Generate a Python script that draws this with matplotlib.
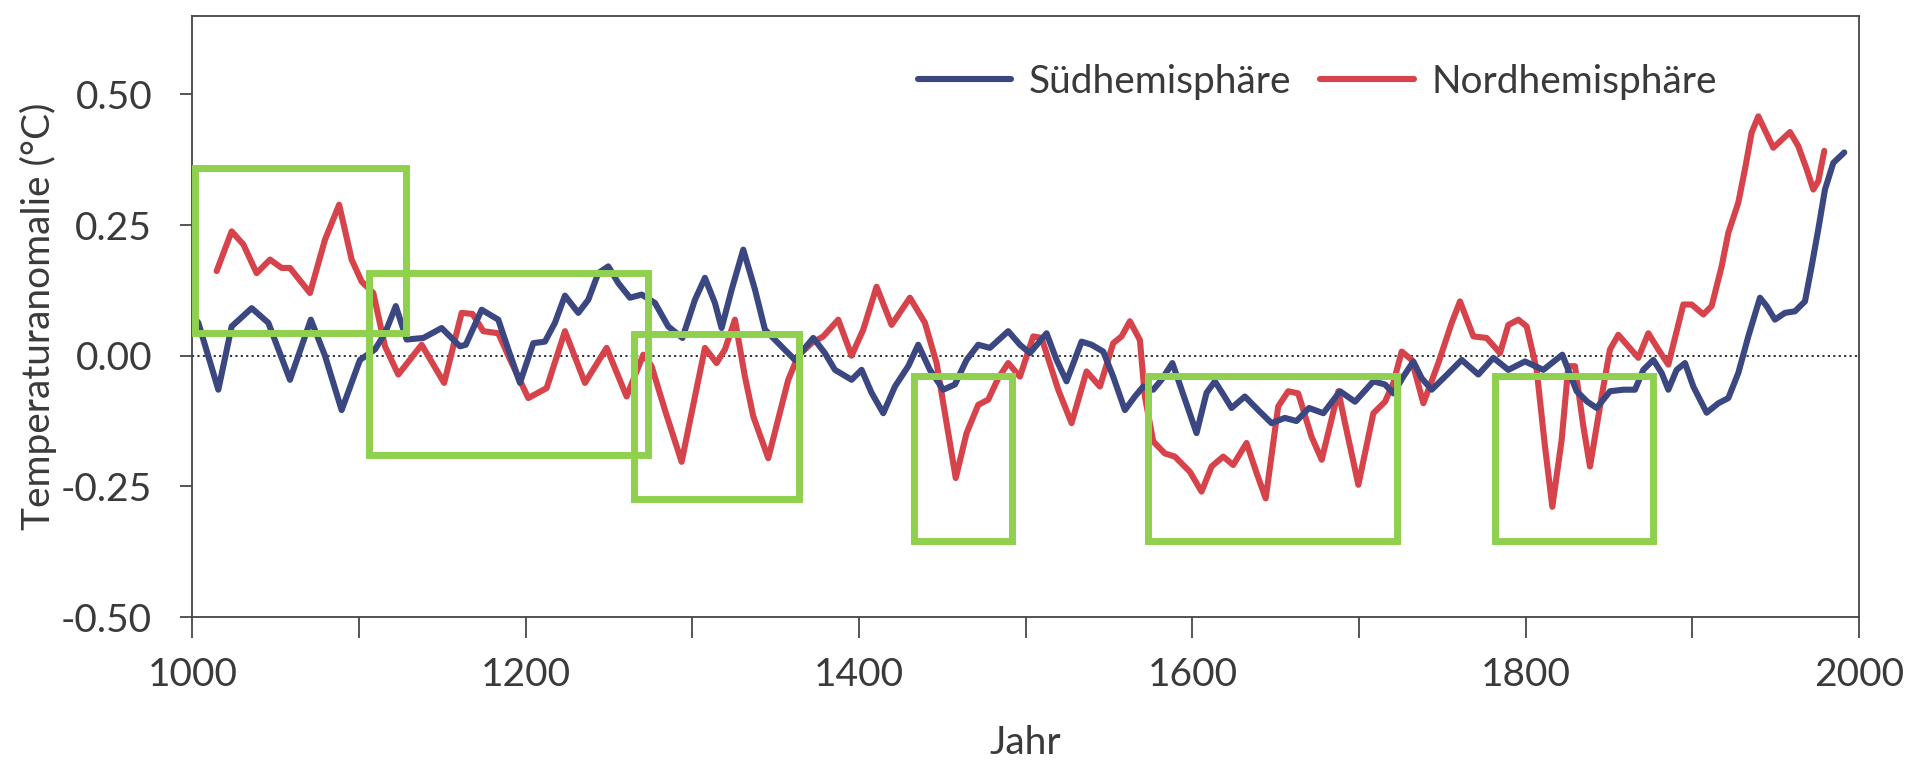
import matplotlib
matplotlib.use("Agg")
import matplotlib.pyplot as plt
from matplotlib.patches import Rectangle

# Northern hemisphere (red)
nord_jahr = [1014.5, 1023.5, 1030.5, 1038.5, 1046.5, 1053.5, 1058.5, 1070.5, 1079.5, 1088,
             1095.5, 1101.5, 1108.5, 1115.5, 1123.5, 1137.5, 1151, 1161.5, 1168, 1174.5,
             1183.5, 1189.5, 1201.5, 1212.5, 1223.5, 1235.5, 1248.5, 1260.5, 1270.5, 1275.5,
             1283.5, 1293.5, 1301.5, 1307.5, 1314.5, 1319.5, 1325.5, 1331.5, 1336.5, 1345.5,
             1357.5, 1363.5, 1371.5, 1378.5, 1387.5, 1395.5, 1402.5, 1410.5, 1419.5, 1430.5,
             1439.5, 1446.5, 1452.5, 1458, 1464.5, 1471.5, 1477.5, 1483.5, 1489.5, 1496.5,
             1504.5, 1509.5, 1519.5, 1527.5, 1536.5, 1544.5, 1552.5, 1557.5, 1562.5, 1568.5,
             1571.5, 1576.5, 1583.5, 1589.5, 1598.5, 1605.5, 1611.5, 1618.5, 1624.5, 1632.5,
             1638.5, 1644, 1651.5, 1657.5, 1663.5, 1671.5, 1677.6, 1687.6, 1691.6, 1699.6,
             1708.6, 1715.6, 1720.6, 1725.6, 1731.6, 1738.6, 1747.6, 1755.6, 1760.6, 1768.6,
             1776.6, 1784.6, 1789.6, 1795.6, 1800.6, 1806.6, 1811.6, 1816, 1821.6, 1825.6,
             1829.6, 1834.6, 1838.6, 1845.6, 1850.6, 1855.6, 1861.6, 1867.6, 1873.6, 1879.6,
             1885.6, 1894.6, 1899.6, 1906.6, 1911.6, 1917.6, 1921.6, 1927.6, 1931.6, 1935.6,
             1939.6, 1948.6, 1958.6, 1963.6, 1968.6, 1972.6, 1975.6, 1979.2]
nord_wert = [0.162, 0.238, 0.213, 0.158, 0.184, 0.168, 0.168, 0.120, 0.222, 0.289,
             0.184, 0.142, 0.120, 0.018, -0.036, 0.021, -0.052, 0.082, 0.080, 0.047,
             0.043, 0.000, -0.081, -0.062, 0.047, -0.052, 0.015, -0.078, 0.002, -0.020,
             -0.104, -0.203, -0.078, 0.015, -0.014, 0.012, 0.069, -0.040, -0.116, -0.196,
             -0.046, 0.000, 0.024, 0.037, 0.069, 0.000, 0.050, 0.132, 0.059, 0.111,
             0.063, -0.014, -0.129, -0.234, -0.148, -0.094, -0.084, -0.043, -0.014, -0.040,
             0.037, 0.034, -0.065, -0.129, -0.030, -0.059, 0.024, 0.037, 0.066, 0.030,
             -0.078, -0.164, -0.187, -0.193, -0.222, -0.260, -0.212, -0.193, -0.209, -0.167,
             -0.224, -0.273, -0.097, -0.068, -0.072, -0.155, -0.199, -0.068, -0.129, -0.247,
             -0.110, -0.088, -0.052, 0.008, -0.008, -0.091, -0.014, 0.063, 0.104, 0.037,
             0.034, 0.005, 0.059, 0.069, 0.056, -0.027, -0.174, -0.289, -0.161, -0.020,
             -0.020, -0.135, -0.212, -0.078, 0.012, 0.040, 0.018, -0.004, 0.043, 0.012,
             -0.017, 0.098, 0.098, 0.079, 0.095, 0.171, 0.235, 0.293, 0.357, 0.427,
             0.458, 0.398, 0.428, 0.401, 0.357, 0.318, 0.334, 0.392]

# Southern hemisphere (blue)
sued_jahr = [1000.5, 1003.5, 1015.5, 1023.5, 1035.5, 1045.5, 1058.5, 1071, 1079.5, 1089.5,
             1100.5, 1109.5, 1115.5, 1122, 1128.5, 1138.5, 1149.5, 1160.5, 1164, 1173.5,
             1183.5, 1189.5, 1196.5, 1204.5, 1211.5, 1217.5, 1223.5, 1231.5, 1237.5, 1243.5,
             1249.5, 1255.5, 1262.5, 1269.5, 1277.5, 1285.5, 1294, 1301.5, 1307.5, 1313.5,
             1317.5, 1323.5, 1330.5, 1337.5, 1343.5, 1351.5, 1361.5, 1372.5, 1379.5, 1385.5,
             1395.5, 1401.5, 1407.5, 1414.5, 1421.5, 1429.5, 1435.5, 1442.5, 1450.5, 1457.5,
             1464.5, 1471.5, 1478.5, 1489.5, 1496.5, 1502.5, 1512.5, 1518.5, 1524.5, 1533.5,
             1539.5, 1546.5, 1552.5, 1559.5, 1565.5, 1570.5, 1576.5, 1581.5, 1588, 1593.5,
             1602.5, 1608.5, 1613.5, 1618.5, 1623.5, 1631.5, 1639.5, 1647.5, 1655.5, 1662.5,
             1670, 1678.6, 1688.6, 1697.6, 1708.6, 1715.6, 1720.6, 1726.6, 1732.6, 1737.6,
             1743.6, 1751.6, 1761.6, 1771.6, 1780.6, 1789.6, 1799.6, 1810.6, 1822, 1830.6,
             1837, 1842.6, 1850.6, 1858.6, 1865.6, 1870.6, 1876.6, 1881.6, 1885.6, 1890.6,
             1895.6, 1900.6, 1908.6, 1915.6, 1921.6, 1927.6, 1933.6, 1940.6, 1944.6, 1949.6,
             1955.6, 1961.6, 1967.6, 1971.6, 1975.6, 1979.6, 1984.6, 1991.2]
sued_wert = [0.075, 0.063, -0.065, 0.056, 0.091, 0.063, -0.046, 0.069, 0.000, -0.104,
             -0.008, 0.012, 0.043, 0.095, 0.031, 0.034, 0.053, 0.018, 0.021, 0.088,
             0.069, 0.012, -0.052, 0.024, 0.027, 0.063, 0.115, 0.082, 0.107, 0.158,
             0.171, 0.139, 0.111, 0.117, 0.101, 0.056, 0.034, 0.107, 0.149, 0.101,
             0.053, 0.126, 0.203, 0.127, 0.050, 0.024, -0.008, 0.034, 0.005, -0.027,
             -0.046, -0.027, -0.071, -0.110, -0.059, -0.020, 0.021, -0.027, -0.065, -0.055,
             -0.008, 0.021, 0.015, 0.047, 0.021, 0.005, 0.043, -0.008, -0.049, 0.027,
             0.021, 0.008, -0.040, -0.104, -0.078, -0.059, -0.065, -0.046, -0.014, -0.065,
             -0.148, -0.071, -0.049, -0.074, -0.100, -0.078, -0.104, -0.129, -0.119, -0.125,
             -0.100, -0.110, -0.068, -0.088, -0.049, -0.055, -0.072, -0.040, -0.011, -0.043,
             -0.065, -0.040, -0.008, -0.036, -0.004, -0.027, -0.011, -0.027, 0.002, -0.068,
             -0.088, -0.100, -0.068, -0.065, -0.065, -0.027, -0.008, -0.033, -0.065, -0.027,
             -0.014, -0.059, -0.109, -0.091, -0.081, -0.033, 0.037, 0.111, 0.095, 0.069,
             0.082, 0.085, 0.104, 0.171, 0.242, 0.318, 0.369, 0.389]

# green marker boxes (year from, year to, value bottom, value top)
box_von = [1001.5, 1106.1, 1265.1, 1432.9, 1573.1, 1781.6]
box_bis = [1127.9, 1273.1, 1363.9, 1491.5, 1722.8, 1876.6]
box_unten = [0.043, -0.190, -0.275, -0.355, -0.355, -0.355]
box_oben = [0.360, 0.158, 0.042, -0.038, -0.038, -0.038]

y_ticks = [-0.50, -0.25, 0.00, 0.25, 0.50]
x_ticks = [1000, 1200, 1400, 1600, 1800, 2000]

plt.rcParams['font.family'] = ['Lato', 'DejaVu Sans']
text_col = '#3a3a3a'
fs = 28

fig = plt.figure(figsize=(19.23, 7.63), dpi=100)
ax = fig.add_axes([0.1001, 0.1913, 0.8666, 0.7877])

ax.axhline(0, color='#222222', lw=1.3, ls=(0, (1.2, 1.8)), zorder=1)
ax.plot(sued_jahr, sued_wert, color='#3b4781', lw=4.4, label='Südhemisphäre',
        solid_joinstyle='round', solid_capstyle='round', zorder=3)
ax.plot(nord_jahr, nord_wert, color='#d6434b', lw=4.4, label='Nordhemisphäre',
        solid_joinstyle='round', solid_capstyle='round', zorder=2)

for x0, x1, y0, y1 in zip(box_von, box_bis, box_unten, box_oben):
    ax.add_patch(Rectangle((x0, y0), x1 - x0, y1 - y0, fill=False,
                           edgecolor='#8fd14f', lw=5.0, zorder=5))

ax.set_xlim(1000, 2000)
ax.set_ylim(-0.5, 0.65)
ax.set_xticks(x_ticks)
ax.set_xticks(range(1100, 2000, 200), minor=True)
ax.set_yticks(y_ticks)
ax.set_yticklabels(['%.2f' % v for v in y_ticks])
ax.tick_params(axis='y', length=9, width=1.2, pad=20, labelsize=fs, colors=text_col)
ax.tick_params(axis='x', which='both', length=15, width=1.2, pad=14, labelsize=fs,
               colors=text_col)
for s in ax.spines.values():
    s.set_color('#444444')
    s.set_linewidth(1.3)

ax.set_xlabel('Jahr', fontsize=fs, color=text_col, labelpad=23)
ax.set_ylabel('Temperaturanomalie (°C)', fontsize=fs, color=text_col, labelpad=3)

fig.legend(loc='center', bbox_to_anchor=(0.685, 0.893), ncol=2, frameon=False,
           fontsize=fs, handlelength=2.4, handletextpad=0.45, columnspacing=0.75,
           labelcolor=text_col)

fig.savefig('out.png', dpi=100)
